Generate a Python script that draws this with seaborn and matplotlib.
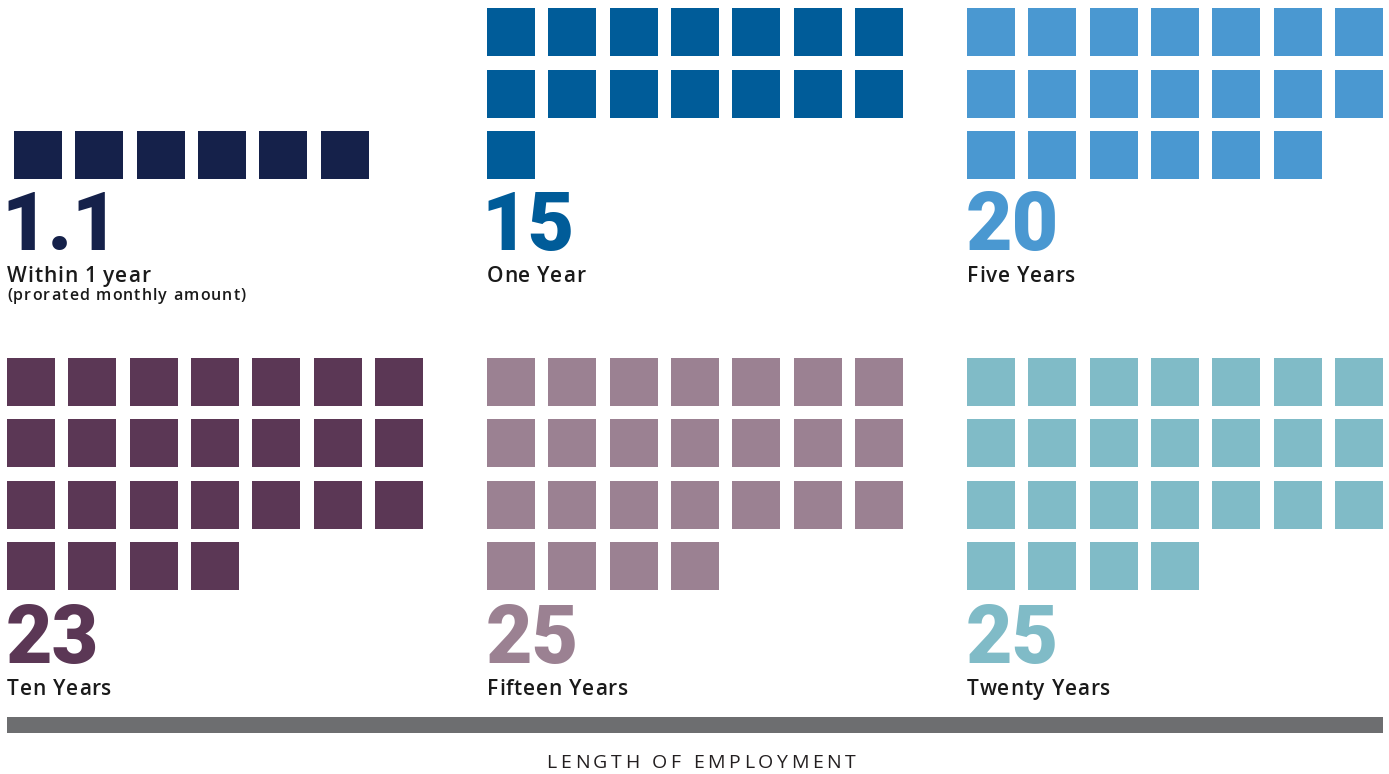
import math
import matplotlib
matplotlib.use("Agg")
import matplotlib.pyplot as plt
from matplotlib.patches import Rectangle
from matplotlib.font_manager import FontProperties, findfont, get_font
import pandas as pd
import seaborn as sns

# Paid days off by length of employment
categories = ["Within 1 year", "One Year", "Five Years",
              "Ten Years", "Fifteen Years", "Twenty Years"]
notes = ["(prorated monthly amount)", "", "", "", "", ""]
day_labels = ["1.1", "15", "20", "23", "25", "25"]
square_counts = [6, 15, 20, 25, 25, 25]
colors = ["#15214a", "#005c99", "#4a98d1", "#5b3755", "#9b8192", "#80bbc7"]
axis_title = "LENGTH OF EMPLOYMENT"

# Layout (pixel units, y grows downward)
W, H = 1389, 774
DPI = 100
PER_ROW = 7
PITCH = 61.33
SIDE = 48
panel_left = [14, 487, 967, 7, 487, 967]
text_left = [8, 488, 968, 8, 488, 968]
block_bottom = [179, 179, 179, 590, 590, 590]
number_base = [250, 250, 250, 663, 663, 663]

sns.set_theme(style="white")
plt.rcParams["font.family"] = ["Open Sans", "DejaVu Sans"]

NUM_FONT = dict(family=["Roboto", "DejaVu Sans"], weight="black", size=58)
LABEL_FONT = dict(family=["Open Sans", "DejaVu Sans"], weight="semibold", size=15)
NOTE_FONT = dict(family=["Open Sans", "DejaVu Sans"], weight="semibold", size=11.5)
TITLE_FONT = dict(family=["Open Sans", "DejaVu Sans"], weight="normal", size=14)


def load_font(font):
    prop = FontProperties(family=font["family"], weight=font["weight"])
    ft = get_font(findfont(prop))
    ft.set_size(font["size"], DPI)
    return ft


def put_text(ax, x, y, s, font, **kw):
    return ax.text(x, y, s, family=font["family"], weight=font["weight"],
                   size=font["size"], ha="left", va="baseline", **kw)


def tracked_text(ax, x, y, s, font, tracking=0.0, ha="left", **kw):
    """Text laid out on glyph advances plus extra letter spacing."""
    ft = load_font(font)
    adv = [ft.load_char(ord(ch)).linearHoriAdvance / 65536 for ch in s]
    total = sum(adv) + tracking * (len(s) - 1)
    if ha == "center":
        x -= total / 2
    for ch, a in zip(s, adv):
        if ch.strip():
            put_text(ax, x, y, ch, font, **kw)
        x += a + tracking


rows = []
for i, (cat, n) in enumerate(zip(categories, square_counts)):
    nrows = math.ceil(n / PER_ROW)
    top = block_bottom[i] - (nrows - 1) * PITCH - SIDE
    for k in range(n):
        r, c = divmod(k, PER_ROW)
        rows.append({
            "category": cat,
            "x": panel_left[i] + c * PITCH + SIDE / 2,
            "y": top + r * PITCH + SIDE / 2,
        })
squares = pd.DataFrame(rows)

fig = plt.figure(figsize=(W / DPI, H / DPI), dpi=DPI)
ax = fig.add_axes([0, 0, 1, 1])
ax.set_xlim(0, W)
ax.set_ylim(H, 0)
ax.axis("off")

side_pt = SIDE * 72 / DPI
sns.scatterplot(data=squares, x="x", y="y", hue="category",
                palette=dict(zip(categories, colors)), marker="s",
                s=side_pt ** 2, linewidth=0, legend=False, ax=ax)

num_ft = load_font(NUM_FONT)
for i, cat in enumerate(categories):
    # shift so the ink of the first digit starts at the text column
    lead = num_ft.load_char(ord(day_labels[i][0])).horiBearingX / 64
    put_text(ax, text_left[i] - lead, number_base[i], day_labels[i],
             NUM_FONT, color=colors[i])
    tracked_text(ax, text_left[i] - 1, number_base[i] + 32, cat,
                 LABEL_FONT, tracking=0.8, color="#1a1a1a")
    if notes[i]:
        tracked_text(ax, text_left[i] - 1, number_base[i] + 50, notes[i],
                     NOTE_FONT, tracking=1.1, color="#1a1a1a")

ax.add_patch(Rectangle((7, 717), 1376, 16, color="#6d6e70", lw=0))
tracked_text(ax, 701, 768, axis_title, TITLE_FONT, tracking=3.6,
             ha="center", color="#231f20")

fig.savefig("out.png", dpi=DPI)
